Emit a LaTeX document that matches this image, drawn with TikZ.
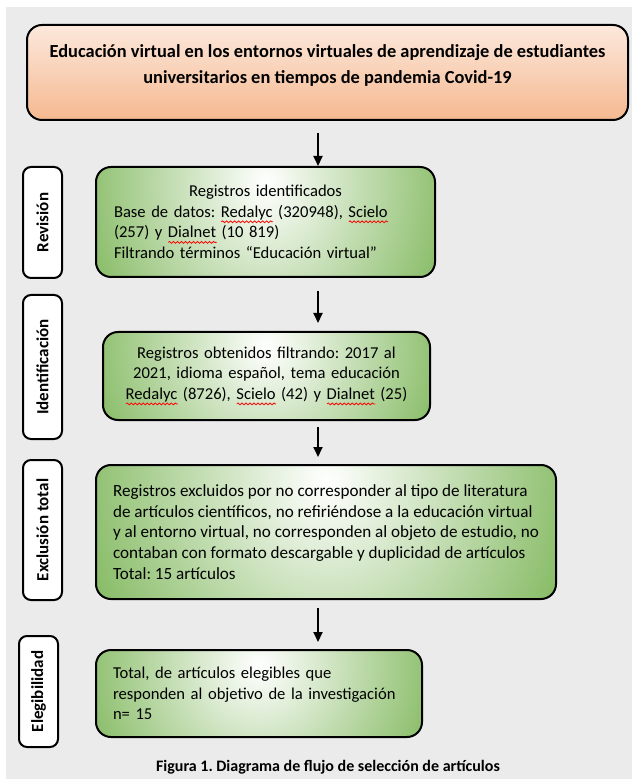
\documentclass[tikz,border=0pt]{standalone}
\usepackage{fontspec}
\setmainfont{Carlito}
\usetikzlibrary{arrows.meta,decorations.pathmorphing}
\definecolor{paper}{HTML}{EBEBEB}
\definecolor{peachtop}{HTML}{FCE8DC}
\definecolor{peachbot}{HTML}{F5B990}
\definecolor{leaf}{HTML}{68AA3E}
% red spell-check squiggle under a word
\newlength\wavelen
\newcommand\redwave[1]{\settowidth\wavelen{#1}\leavevmode\rlap{\tikz[baseline=0pt]\draw[red, line width=0.4pt, sharp corners,
    decorate, decoration={snake, amplitude=0.45pt, segment length=2pt}] (0pt,-2.2pt) -- (\wavelen,-2.2pt);}#1}
\frenchspacing

\begin{document}
\begin{tikzpicture}[x=0.5pt, y=-0.5pt,
    titlebox/.style={draw, line width=1pt, rounded corners=7.5pt, top color=peachtop, bottom color=peachbot,
      inner sep=0pt, align=center, font=\bfseries\fontsize{9.2}{13}\selectfont},
    greenbox/.style 2 args={draw, line width=1pt, rounded corners=7.5pt, inner sep=0pt,
      font=\fontsize{8.3}{10.3}\selectfont,
      path picture={
        \fill[leaf] (path picture bounding box.south west) rectangle (path picture bounding box.north east);
        \shade[inner color=white, outer color=leaf] ([yshift=-8pt]path picture bounding box.north) ellipse (#1 and #2);}},
    stagebox/.style={draw, fill=white, line width=1pt, rounded corners=4pt, rotate=90, inner sep=0pt,
      minimum height=19.5pt, font=\bfseries\fontsize{8.5}{10}\selectfont},
    arr/.style={line width=1pt, -{Triangle[length=5pt, width=4.5pt]}},
    capt/.style={font=\bfseries\fontsize{8}{10}\selectfont}]
  \useasboundingbox (0,0) rectangle (632,779);
  \fill[white] (0,0) rectangle (632,779);
  \fill[paper] (6,7) rectangle (632,779);

  \node[titlebox, minimum width=300.5pt, minimum height=47.5pt] (title) at (327.5,72.5)
    {Educación virtual en los entornos virtuales de aprendizaje de estudiantes\\
     universitarios en tiempos de pandemia Covid-19\rule[-8pt]{0pt}{8pt}};

  % stages
  \node[greenbox={120pt}{140pt}, minimum width=169.5pt, minimum height=55pt, text width=151.5pt, align=left] (regA) at (265.5,222)
    {\makebox[\linewidth]{Registros identificados}\\
     Base de datos: \redwave{Redalyc} (320948), \redwave{Scielo}\\
     (257) y \redwave{Dialnet} (10 819)\\
     Filtrando términos “Educación virtual”};
  \node[greenbox={115pt}{115pt}, minimum width=163.5pt, minimum height=44pt, text width=150pt, align=center] (regB) at (266.5,376)
    {Registros obtenidos filtrando: 2017 al\\
     2021, idioma español, tema educación\\
     \redwave{Redalyc} (8726), \redwave{Scielo} (42) y \redwave{Dialnet} (25)};
  \node[greenbox={160pt}{170pt}, minimum width=230pt, minimum height=67pt, align=left,
        font=\fontsize{8.55}{10.4}\selectfont] (excl) at (326,532)
    {Registros excluidos por no corresponder al tipo de literatura\\
     de artículos científicos, no refiriéndose a la educación virtual\\
     y al entorno virtual, no corresponden al objeto de estudio, no\\
     contaban con formato descargable y duplicidad de artículos\\
     Total: 15 artículos};
  \node[greenbox={115pt}{115pt}, minimum width=163pt, minimum height=43.5pt, text width=146pt, align=left] (eleg) at (259,693.5)
    {Total, de artículos elegibles que\\
     responden al objetivo de la investigación\\
     n= 15};

  % side labels
  \node[stagebox, minimum width=55.5pt] (sRev) at (42.5,222.5) {Revisión};
  \node[stagebox, minimum width=72pt] (sIde) at (42.5,367) {Identificación};
  \node[stagebox, minimum width=70pt] (sExc) at (42.5,530) {Exclusión total};
  \node[stagebox, minimum width=55.5pt] (sEle) at (38.5,691.5) {Elegibilidad};

  \node[capt] (cap) at (328,767) {Figura 1. Diagrama de flujo de selección de artículos};

  % arrows
  \coordinate (spine) at (318,0);
  \draw[arr] ([yshift=-6pt]title.south -| spine) -- (regA.north -| spine);
  \draw[arr] ([yshift=-6.5pt]regA.south -| spine) -- ([yshift=4pt]regB.north -| spine);
  \draw[arr] ([yshift=-3pt]regB.south -| spine) -- ([yshift=3.5pt]excl.north -| spine);
  \draw[arr] ([yshift=-4pt]excl.south -| spine) -- ([yshift=3.5pt]eleg.north -| spine);
\end{tikzpicture}
\end{document}
